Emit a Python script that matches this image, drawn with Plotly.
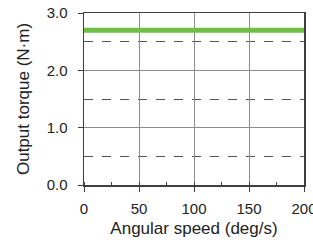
import plotly.graph_objects as go

speed = [0, 200]
torque = [2.7, 2.7]

x_ticks = [0, 50, 100, 150, 200]
y_ticks = [0.0, 1.0, 2.0, 3.0]
y_labels = ["0.0", "1.0", "2.0", "3.0"]

fig = go.Figure()
fig.add_trace(go.Scatter(x=speed, y=torque, mode="lines",
                         line=dict(color="#6fbf45", width=5), showlegend=False,
                         cliponaxis=False, hoverinfo="skip"))

fig.update_layout(
    width=313, height=244,
    margin=dict(l=84, r=9, t=13, b=59),
    paper_bgcolor="white", plot_bgcolor="white",
    font=dict(family="Liberation Sans, Arial, sans-serif", size=15, color="#222222"),
    xaxis=dict(
        range=[0, 200], tickvals=x_ticks, ticktext=[str(v) for v in x_ticks],
        automargin=False, ticklabeloverflow="allow",
        showgrid=True, gridcolor="#8c8c8c", gridwidth=1,
        showline=True, linecolor="#404040", linewidth=1.5, mirror=True,
        ticks="outside", ticklen=5, tickcolor="#404040",
        tickfont=dict(size=15), ticklabelstandoff=4,
        zeroline=False,
        minor=dict(dtick=25, tick0=0, ticks="inside", ticklen=3, tickcolor="#404040", showgrid=False),
        title=dict(text="Angular speed (deg/s)", font=dict(size=17), standoff=6),
    ),
    yaxis=dict(
        range=[0, 3], tickvals=y_ticks, ticktext=y_labels,
        automargin=False, ticklabeloverflow="allow",
        showgrid=True, gridcolor="#8c8c8c", gridwidth=1,
        showline=True, linecolor="#404040", linewidth=1.5, mirror=True,
        ticks="outside", ticklen=5, tickcolor="#404040",
        tickfont=dict(size=15), ticklabelstandoff=7,
        zeroline=False,
        minor=dict(dtick=0.5, tick0=0, showgrid=True, gridcolor="#555555",
                   griddash="dash", gridwidth=1, ticks=""),
        title=dict(text="Output torque (N·m)", font=dict(size=17), standoff=12),
    ),
)

fig.write_html("out.html", config={"displayModeBar": False, "staticPlot": True},
               post_script="document.body.style.margin='0';")
